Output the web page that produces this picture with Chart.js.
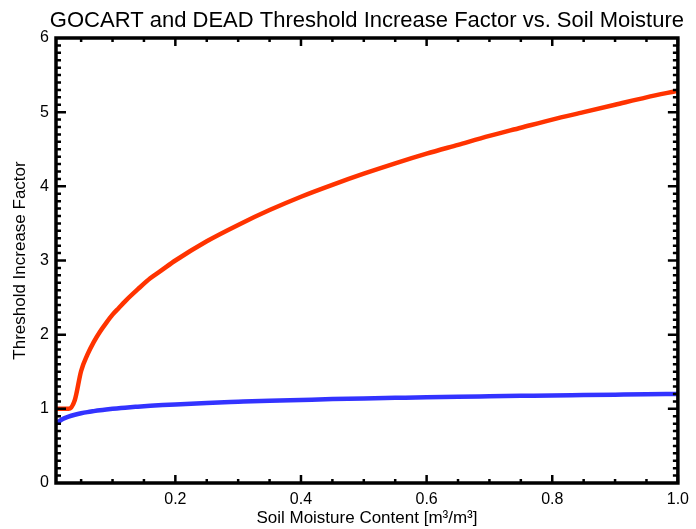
<!DOCTYPE html>
<html>
<head>
<meta charset="utf-8">
<title>Threshold Increase Factor</title>
<script src="https://cdn.jsdelivr.net/npm/chart.js@4.4.1/dist/chart.umd.min.js"></script>
<style>
    html, body { margin: 0; padding: 0; background: #fff; }
    canvas { display: block; }
</style>
</head>
<body>
<canvas id="grafico-soglia" width="696" height="529"></canvas>
<script>
// soil moisture content (m3/m3)
var umidita = [0.01, 0.02, 0.03, 0.04, 0.05, 0.06, 0.07, 0.08, 0.09, 0.10,
    0.11, 0.12, 0.14, 0.16, 0.18, 0.20, 0.25, 0.30, 0.35, 0.40, 0.45, 0.50,
    0.55, 0.60, 0.65, 0.70, 0.75, 0.80, 0.85, 0.90, 0.95, 1.00];

// DEAD threshold increase factor
var fattoreDead = [1.00, 1.00, 1.00, 1.12, 1.51, 1.73, 1.90, 2.04, 2.16, 2.27,
    2.36, 2.45, 2.61, 2.76, 2.88, 3.00, 3.26, 3.48, 3.68, 3.86, 4.02, 4.17,
    4.31, 4.44, 4.56, 4.68, 4.79, 4.90, 5.00, 5.10, 5.20, 5.29];

// GOCART threshold increase factor
var fattoreGocart = [0.800, 0.860, 0.895, 0.920, 0.940, 0.956, 0.969, 0.981, 0.991, 1.000,
    1.008, 1.016, 1.029, 1.041, 1.051, 1.060, 1.080, 1.095, 1.109, 1.120, 1.131, 1.140,
    1.148, 1.156, 1.163, 1.169, 1.175, 1.181, 1.186, 1.191, 1.196, 1.200];

var tickX = [0.2, 0.4, 0.6, 0.8, 1.0];
var tickY = [0, 1, 2, 3, 4, 5, 6];

var titolo = 'GOCART and DEAD Threshold Increase Factor vs. Soil Moisture';
var titoloX = 'Soil Moisture Content [m\u00b3/m\u00b3]';
var titoloY = 'Threshold Increase Factor';

var font = '"Liberation Sans", Arial, Helvetica, sans-serif';

function punti(valori) {
    var out = [];
    for (var i = 0; i < umidita.length; i++) {
        out.push({ x: umidita[i], y: valori[i] });
    }
    return out;
}

// frame with inward ticks on all four sides + title over the plot box
var cornice = {
    id: 'cornice',
    afterDatasetsDraw: function (chart) {
        var ctx = chart.ctx;
        var a = chart.chartArea;
        var sx = chart.scales.x;
        var sy = chart.scales.y;
        ctx.save();
        ctx.strokeStyle = '#000';
        ctx.lineWidth = 2.5;
        ctx.beginPath();
        for (var i = 1; i <= 20; i++) {
            var px = sx.getPixelForValue(i * 0.05);
            var len = (i % 4 === 0) ? 8 : 4;
            ctx.moveTo(px, a.bottom); ctx.lineTo(px, a.bottom - len);
            ctx.moveTo(px, a.top); ctx.lineTo(px, a.top + len);
        }
        for (var j = 1; j < 60; j++) {
            var py = sy.getPixelForValue(j / 10);
            var l = (j % 10 === 0) ? 10 : 5;
            ctx.moveTo(a.left, py); ctx.lineTo(a.left + l, py);
            ctx.moveTo(a.right, py); ctx.lineTo(a.right - l, py);
        }
        ctx.stroke();
        ctx.lineWidth = 3.5;
        ctx.strokeRect(a.left, a.top, a.right - a.left, a.bottom - a.top);

        ctx.fillStyle = '#000';
        ctx.font = '22px ' + font;
        ctx.textAlign = 'center';
        ctx.textBaseline = 'alphabetic';
        ctx.fillText(titolo, (a.left + a.right) / 2, 27);
        ctx.restore();
    }
};

var ctx = document.getElementById('grafico-soglia');
var chart = new Chart(ctx, {
    type: 'line',
    data: {
        datasets: [{
            label: 'DEAD',
            data: punti(fattoreDead),
            borderColor: '#ff3300',
            borderWidth: 4.5,
            pointRadius: 0,
            cubicInterpolationMode: 'monotone'
        }, {
            label: 'GOCART',
            data: punti(fattoreGocart),
            borderColor: '#3333ff',
            borderWidth: 4.5,
            pointRadius: 0,
            cubicInterpolationMode: 'monotone'
        }]
    },
    options: {
        responsive: false,
        animation: false,
        devicePixelRatio: 1,
        layout: { padding: { top: 38, right: 15, bottom: 0, left: 0 } },
        plugins: {
            legend: { display: false },
            tooltip: { enabled: false },
            title: { display: false }
        },
        scales: {
            x: {
                type: 'linear',
                min: 0.01,
                max: 1.0,
                afterBuildTicks: function (scale) {
                    scale.ticks = tickX.map(function (v) { return { value: v }; });
                },
                afterFit: function (scale) { scale.height = 46; },
                grid: { display: false, drawTicks: false },
                border: { display: false },
                ticks: {
                    padding: 7,
                    color: '#000',
                    maxRotation: 0,
                    font: { family: font, size: 16 },
                    callback: function (v) { return v.toFixed(1); }
                },
                title: {
                    display: true,
                    text: titoloX,
                    color: '#000',
                    padding: { top: 0, bottom: 0 },
                    font: { family: font, size: 17 }
                }
            },
            y: {
                type: 'linear',
                min: 0,
                max: 6,
                afterBuildTicks: function (scale) {
                    scale.ticks = tickY.map(function (v) { return { value: v }; });
                },
                afterFit: function (scale) { scale.width = 56; },
                grid: { display: false, drawTicks: false },
                border: { display: false },
                ticks: {
                    padding: 7,
                    color: '#000',
                    font: { family: font, size: 16 }
                },
                title: {
                    display: true,
                    text: titoloY,
                    color: '#000',
                    padding: { top: 10, bottom: 0 },
                    font: { family: font, size: 17 }
                }
            }
        }
    },
    plugins: [cornice]
});
</script>
</body>
</html>
